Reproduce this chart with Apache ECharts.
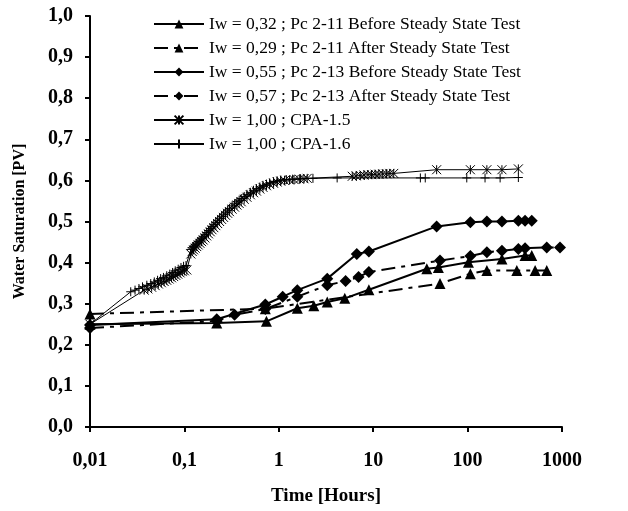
<!DOCTYPE html>
<html>
<head>
<meta charset="utf-8">
<script src="https://cdn.jsdelivr.net/npm/echarts@6/dist/echarts.min.js"></script>
<style>
html,body{margin:0;padding:0;background:#fff;}
#chart{width:628px;height:511px;}
</style>
</head>
<body>
<div id="chart"></div>
<script>
// ---- Data ----
const seriesNames = [
  'Iw = 0,32 ; Pc 2-11 Before Steady State Test',
  'Iw = 0,29 ; Pc 2-11 After Steady State Test',
  'Iw = 0,55 ; Pc 2-13 Before Steady State Test',
  'Iw = 0,57 ; Pc 2-13 After Steady State Test',
  'Iw = 1,00 ; CPA-1.5',
  'Iw = 1,00 ; CPA-1.6'
];

const xTickLabels = ['0,01', '0,1', '1', '10', '100', '1000'];
const yTickLabels = ['0,0','0,1','0,2','0,3','0,4','0,5','0,6','0,7','0,8','0,9','1,0'];

const pc211BeforeTime = [0.01, 0.22, 0.74, 1.57, 2.35, 3.26, 5.0, 9.0, 37, 49, 102, 231, 406, 478];
const pc211BeforeSw   = [0.25, 0.253, 0.257, 0.289, 0.295, 0.304, 0.313, 0.334, 0.385, 0.388, 0.401, 0.409, 0.417, 0.417];

const pc211AfterTime = [0.01, 0.72, 51, 107, 160, 332, 519, 689];
const pc211AfterSw   = [0.275, 0.288, 0.349, 0.373, 0.381, 0.381, 0.381, 0.381];

const pc213BeforeTime = [0.01, 0.22, 0.72, 1.1, 1.57, 3.26, 6.7, 9.0, 47, 107, 160, 231, 345, 406, 478];
const pc213BeforeSw   = [0.248, 0.262, 0.298, 0.317, 0.333, 0.361, 0.421, 0.427, 0.488, 0.498, 0.5, 0.5, 0.502, 0.502, 0.502];

const pc213AfterTime = [0.01, 0.22, 0.34, 0.72, 1.57, 3.26, 5.1, 7.0, 9.0, 51, 107, 160, 231, 345, 406, 689, 953];
const pc213AfterSw   = [0.241, 0.258, 0.273, 0.287, 0.317, 0.345, 0.355, 0.365, 0.377, 0.405, 0.416, 0.425, 0.429, 0.433, 0.435, 0.437, 0.437];

const cpa15Time = [0.01, 0.0375, 0.041, 0.045, 0.049, 0.053, 0.057, 0.061, 0.065, 0.069, 0.073, 0.077, 0.081, 0.085, 0.090, 0.095, 0.100, 0.106,
  0.117, 0.121, 0.125, 0.130, 0.135, 0.140, 0.146, 0.152, 0.158, 0.165, 0.172, 0.180, 0.188, 0.196, 0.205, 0.215, 0.225, 0.236, 0.248, 0.26, 0.273, 0.287,
  0.30, 0.32, 0.34, 0.36, 0.38, 0.40, 0.43, 0.46, 0.50, 0.54, 0.58, 0.63, 0.68, 0.74, 0.80, 0.88, 0.96, 1.05, 1.15, 1.3, 1.45, 1.65, 1.85, 2.0,
  6.0, 6.6, 7.3, 8.0, 8.8, 9.6, 10.5, 11.5, 12.6, 13.8, 15.0, 16.5, 47, 107, 160, 231, 345];
const cpa15Sw = [0.25, 0.333, 0.336, 0.34, 0.344, 0.348, 0.351, 0.354, 0.357, 0.36, 0.363, 0.366, 0.369, 0.372, 0.375, 0.378, 0.38, 0.382,
  0.421, 0.427, 0.431, 0.435, 0.439, 0.443, 0.447, 0.451, 0.455, 0.46, 0.465, 0.47, 0.475, 0.48, 0.485, 0.49, 0.495, 0.5, 0.505, 0.51, 0.515, 0.52,
  0.524, 0.53, 0.535, 0.54, 0.544, 0.548, 0.554, 0.559, 0.565, 0.57, 0.574, 0.579, 0.583, 0.587, 0.59, 0.593, 0.596, 0.598, 0.6, 0.601, 0.602, 0.603, 0.604, 0.605,
  0.61, 0.611, 0.612, 0.613, 0.614, 0.614, 0.615, 0.615, 0.616, 0.616, 0.617, 0.617, 0.626, 0.626, 0.626, 0.626, 0.628];

const cpa16Time = [0.01, 0.027, 0.030, 0.033, 0.036, 0.040, 0.044, 0.048, 0.052, 0.056, 0.060, 0.065, 0.070, 0.075, 0.080, 0.086, 0.092, 0.098, 0.104,
  0.117, 0.121, 0.125, 0.130, 0.135, 0.140, 0.146, 0.152, 0.158, 0.165, 0.172, 0.180, 0.188, 0.196, 0.205, 0.215, 0.225, 0.236, 0.248, 0.26, 0.273, 0.287,
  0.30, 0.32, 0.34, 0.36, 0.38, 0.40, 0.43, 0.46, 0.50, 0.54, 0.58, 0.63, 0.68, 0.74, 0.80, 0.88, 0.96, 1.05, 1.2, 1.4, 1.7, 2.3,
  4.15, 31.6, 35.6, 98, 153, 221, 345];
const cpa16Sw = [0.25, 0.329, 0.333, 0.337, 0.341, 0.345, 0.349, 0.353, 0.357, 0.361, 0.364, 0.368, 0.372, 0.376, 0.38, 0.384, 0.388, 0.391, 0.393,
  0.432, 0.436, 0.439, 0.443, 0.447, 0.451, 0.455, 0.459, 0.463, 0.468, 0.473, 0.478, 0.483, 0.488, 0.493, 0.498, 0.503, 0.508, 0.513, 0.518, 0.523, 0.528,
  0.532, 0.538, 0.543, 0.548, 0.552, 0.556, 0.561, 0.566, 0.571, 0.576, 0.58, 0.584, 0.588, 0.591, 0.594, 0.597, 0.599, 0.601, 0.602, 0.603, 0.604, 0.605,
  0.606, 0.606, 0.606, 0.606, 0.606, 0.606, 0.607];

// ---- Chart ----
const FONT = '"Liberation Serif", "Times New Roman", serif';
function pairs(t, v) { return t.map((x, i) => [x, v[i]]); }

const STAR = 'path://M5,0 L5,10 M0,0 L10,10 M0,10 L10,0';
const PLUS = 'path://M5,0 L5,10 M0.5,5 L9.5,5';
const DASHDOT = [14, 6, 4, 6];

function solidSeries(name, data, symbol, size) {
  return {
    name, type: 'line', data, symbol, symbolSize: size,
    lineStyle: { color: '#000', width: 2, type: 'solid' },
    itemStyle: { color: '#000' }
  };
}
function dashSeries(name, data, symbol, size) {
  return {
    name, type: 'line', data, symbol, symbolSize: size,
    lineStyle: { color: '#000', width: 2, type: DASHDOT },
    itemStyle: { color: '#000' }
  };
}
function thinSeries(name, data, symbol, size) {
  return {
    name, type: 'line', data, symbol, symbolSize: size,
    lineStyle: { color: '#000', width: 1, type: 'solid' },
    itemStyle: { color: 'transparent', borderColor: '#000', borderWidth: 1 }
  };
}

const chart = echarts.init(document.getElementById('chart'), null, { renderer: 'canvas' });
chart.setOption({
  animation: false,
  backgroundColor: '#fff',
  grid: { left: 90, right: 66, top: 16, bottom: 79 },
  legend: {
    orient: 'vertical', left: 148, top: 10,
    itemWidth: 50, itemHeight: 11, itemGap: 6,
    textStyle: { fontFamily: FONT, fontSize: 17.5, color: '#000', lineHeight: 17 },
    data: seriesNames
  },
  xAxis: {
    type: 'log', logBase: 10, min: 0.01, max: 1000,
    name: 'Time [Hours]', nameLocation: 'middle', nameGap: 60,
    nameTextStyle: { fontFamily: FONT, fontSize: 19, fontWeight: 'bold', color: '#000' },
    axisLine: { onZero: false, lineStyle: { color: '#000', width: 2 } },
    axisTick: { show: true, inside: false, length: 5, lineStyle: { color: '#000', width: 2 } },
    minorTick: { show: false },
    splitLine: { show: false },
    axisLabel: {
      fontFamily: FONT, fontSize: 20, fontWeight: 'bold', color: '#000', margin: 24,
      formatter: v => xTickLabels[Math.round(Math.log10(v)) + 2]
    }
  },
  yAxis: {
    type: 'value', min: 0, max: 1, interval: 0.1,
    name: 'Water Saturation [PV]', nameLocation: 'middle', nameGap: 62, nameRotate: 90,
    nameTextStyle: { fontFamily: FONT, fontSize: 16, fontWeight: 'bold', color: '#000' },
    axisLine: { show: true, lineStyle: { color: '#000', width: 2 } },
    axisTick: { show: true, inside: false, length: 5, lineStyle: { color: '#000', width: 2 } },
    splitLine: { show: false },
    axisLabel: {
      fontFamily: FONT, fontSize: 20, fontWeight: 'bold', color: '#000', margin: 17,
      formatter: v => yTickLabels[Math.round(v * 10)]
    }
  },
  series: [
    solidSeries(seriesNames[0], pairs(pc211BeforeTime, pc211BeforeSw), 'triangle', 11),
    dashSeries(seriesNames[1], pairs(pc211AfterTime, pc211AfterSw), 'triangle', 11),
    solidSeries(seriesNames[2], pairs(pc213BeforeTime, pc213BeforeSw), 'diamond', 12),
    dashSeries(seriesNames[3], pairs(pc213AfterTime, pc213AfterSw), 'diamond', 12),
    thinSeries(seriesNames[4], pairs(cpa15Time, cpa15Sw), STAR, 9),
    thinSeries(seriesNames[5], pairs(cpa16Time, cpa16Sw), PLUS, 9)
  ]
});
</script>
</body>
</html>
